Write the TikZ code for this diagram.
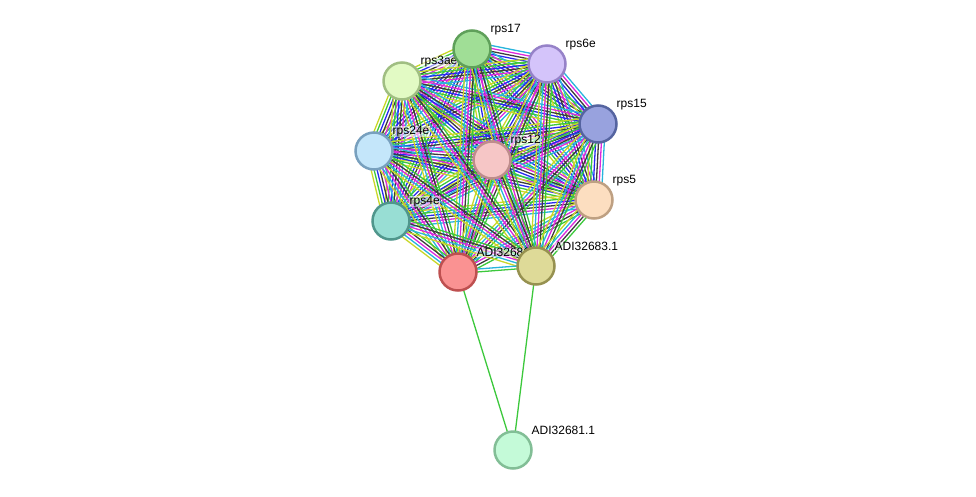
\documentclass[tikz,border=0pt]{standalone}
\usepackage{fontspec}
\setmainfont{Liberation Sans}
\usetikzlibrary{calc}
% evidence colours
\definecolor{evnbr}{RGB}{60,200,60}
\definecolor{evcooc}{RGB}{40,40,240}
\definecolor{evcoex}{RGB}{60,60,60}
\definecolor{evexp}{RGB}{220,40,220}
\definecolor{evdb}{RGB}{40,180,220}
\definecolor{evtxt}{RGB}{200,215,40}
% protein colours
\definecolor{bd17}{RGB}{95,160,90}    \definecolor{fl17}{RGB}{160,222,150}
\definecolor{bd6e}{RGB}{150,130,200}  \definecolor{fl6e}{RGB}{212,196,250}
\definecolor{bd3ae}{RGB}{160,190,130} \definecolor{fl3ae}{RGB}{226,250,196}
\definecolor{bd15}{RGB}{85,100,160}   \definecolor{fl15}{RGB}{152,162,222}
\definecolor{bd24e}{RGB}{120,160,190} \definecolor{fl24e}{RGB}{196,230,250}
\definecolor{bd12}{RGB}{190,140,140}  \definecolor{fl12}{RGB}{246,198,198}
\definecolor{bd5}{RGB}{190,160,130}   \definecolor{fl5}{RGB}{252,222,192}
\definecolor{bd4e}{RGB}{80,150,140}   \definecolor{fl4e}{RGB}{152,222,212}
\definecolor{bd86}{RGB}{190,80,80}    \definecolor{fl86}{RGB}{250,146,146}
\definecolor{bd83}{RGB}{150,145,80}   \definecolor{fl83}{RGB}{222,218,152}
\definecolor{bd81}{RGB}{130,190,150}  \definecolor{fl81}{RGB}{196,250,216}
\pgfdeclarelayer{edges}
\pgfdeclarelayer{labels}
\pgfsetlayers{edges,labels,main}
\tikzset{
  prot/.style 2 args={circle, draw=#1, fill=#2, line width=2.5pt,
    minimum size=37pt, inner sep=0pt},
  plabel/.style={anchor=west, font=\fontsize{12}{14}\selectfont,
    inner sep=0.5pt, fill=white, fill opacity=0.55, text opacity=1},
  evline/.style={line width=1.3pt}
}
% parallel evidence lines between two proteins
\newcommand{\evid}[3]{%
  \foreach \c [count=\i] in {#3} {\xdef\nev{\i}}%
  \foreach \c [count=\i] in {#3} {%
    \pgfmathsetmacro{\off}{(\i-(\nev+1)/2)*2.9}%
    \draw[evline, \c] ($(#1)!\off pt!90:(#2)$) -- ($(#2)!\off pt!-90:(#1)$);
  }%
}

\begin{document}
\begin{tikzpicture}[x=1pt, y=-1pt]
  \useasboundingbox (0,0) rectangle (976,496);

  % proteins
  \node[prot={bd17}{fl17}] (rps17) at (472,49) {};
  \node[prot={bd6e}{fl6e}] (rps6e) at (547,64) {};
  \node[prot={bd3ae}{fl3ae}] (rps3ae) at (402,81) {};
  \node[prot={bd15}{fl15}] (rps15) at (598,124) {};
  \node[prot={bd24e}{fl24e}] (rps24e) at (374,151) {};
  \node[prot={bd12}{fl12}] (rps12) at (492,160) {};
  \node[prot={bd5}{fl5}] (rps5) at (594,200) {};
  \node[prot={bd4e}{fl4e}] (rps4e) at (391,221) {};
  \node[prot={bd86}{fl86}] (adi86) at (458,272) {};
  \node[prot={bd83}{fl83}] (adi83) at (536,266) {};
  \node[prot={bd81}{fl81}] (adi81) at (513,450) {};

  % labels
  \begin{pgfonlayer}{labels}
    \node[plabel] (l17) at ([xshift=18pt,yshift=19.5pt]rps17.center) {rps17};
    \node[plabel] (l6e) at ([xshift=18pt,yshift=19.5pt]rps6e.center) {rps6e};
    \node[plabel] (l3ae) at ([xshift=18pt,yshift=19.5pt]rps3ae.center) {rps3ae};
    \node[plabel] (l15) at ([xshift=18pt,yshift=19.5pt]rps15.center) {rps15};
    \node[plabel] (l24e) at ([xshift=18pt,yshift=19.5pt]rps24e.center) {rps24e};
    \node[plabel] (l12) at ([xshift=18pt,yshift=19.5pt]rps12.center) {rps12};
    \node[plabel] (l5) at ([xshift=18pt,yshift=19.5pt]rps5.center) {rps5};
    \node[plabel] (l4e) at ([xshift=18pt,yshift=19.5pt]rps4e.center) {rps4e};
    \node[plabel] (l86) at ([xshift=18pt,yshift=19.5pt]adi86.center) {ADI32686.1};
    \node[plabel] (l83) at ([xshift=18pt,yshift=19.5pt]adi83.center) {ADI32683.1};
    \node[plabel] (l81) at ([xshift=18pt,yshift=19.5pt]adi81.center) {ADI32681.1};
  \end{pgfonlayer}

  % interactions
  \begin{pgfonlayer}{edges}
    \foreach \a [count=\i] in {rps17,rps6e,rps3ae,rps15,rps24e,rps12,rps5,rps4e} {
      \foreach \b [count=\j] in {rps17,rps6e,rps3ae,rps15,rps24e,rps12,rps5,rps4e} {
        \ifnum\j>\i
          \evid{\a}{\b}{evtxt,evnbr,evcooc,evcoex,evexp,evdb}
        \fi
      }
    }
    \foreach \a in {adi86,adi83} {
      \foreach \b in {rps17,rps6e,rps3ae,rps15,rps24e,rps12,rps5,rps4e} {
        \evid{\a}{\b}{evnbr,evcoex,evexp,evdb,evtxt}
      }
    }
    \evid{adi86}{adi83}{evnbr,evdb}
    \evid{adi86}{adi81}{evnbr}
    \evid{adi83}{adi81}{evnbr}
  \end{pgfonlayer}
\end{tikzpicture}
\end{document}
